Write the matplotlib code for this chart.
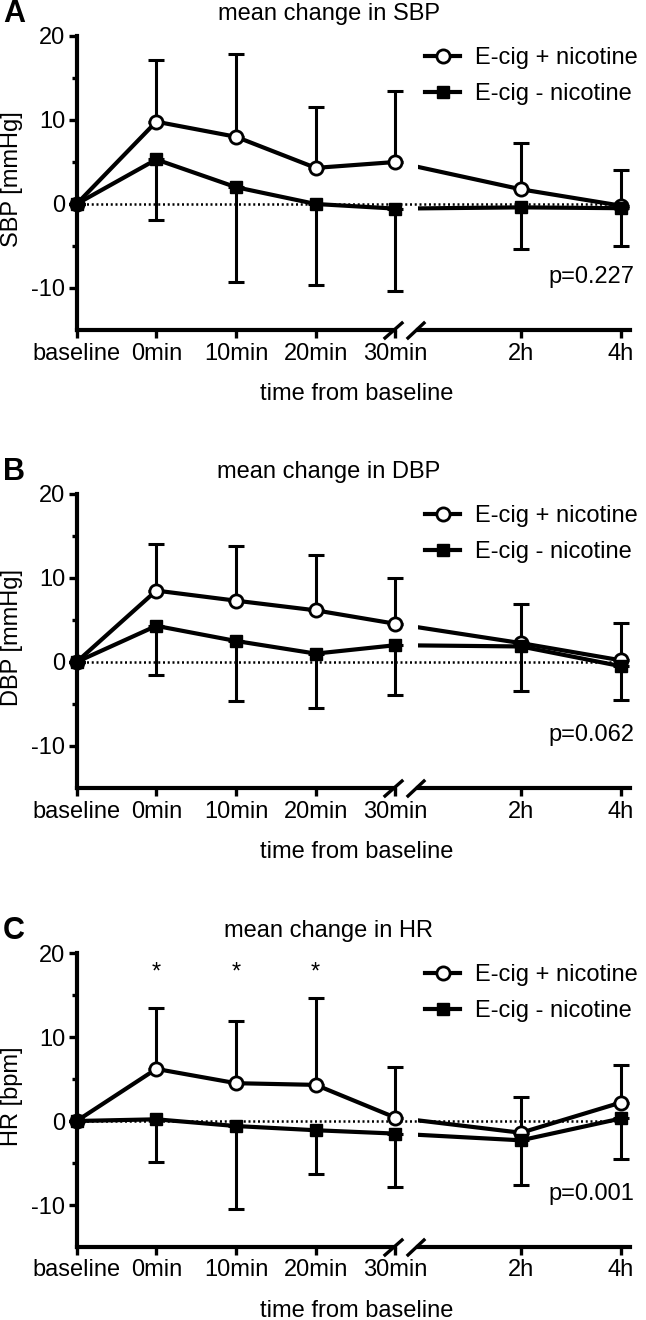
import matplotlib
matplotlib.use('Agg')
import matplotlib.pyplot as plt
from matplotlib.lines import Line2D

plt.rcParams['font.family'] = ['Liberation Sans Narrow', 'Liberation Sans', 'DejaVu Sans']
plt.rcParams['axes.unicode_minus'] = False

# ---------------- data ----------------
time_labels = ['baseline', '0min', '10min', '20min', '30min', '2h', '4h']
series_labels = ['E-cig + nicotine', 'E-cig - nicotine']

sbp_nic = [0, 9.8, 8.0, 4.3, 5.0, 1.75, -0.2]
sbp_nic_err = [0, 7.3, 9.8, 7.2, 8.5, 5.55, 4.3]
sbp_nonic = [0, 5.3, 2.0, 0.0, -0.55, -0.4, -0.5]
sbp_nonic_err = [0, 7.2, 11.3, 9.6, 9.85, 5.0, 4.5]

dbp_nic = [0, 8.5, 7.3, 6.15, 4.55, 2.25, 0.2]
dbp_nic_err = [0, 5.6, 6.5, 6.55, 5.45, 4.7, 4.45]
dbp_nonic = [0, 4.3, 2.5, 1.0, 2.0, 1.85, -0.5]
dbp_nonic_err = [0, 5.8, 7.1, 6.45, 5.9, 5.35, 4.0]

hr_nic = [0, 6.2, 4.5, 4.3, 0.4, -1.4, 2.2]
hr_nic_err = [0, 7.3, 7.4, 10.4, 6.0, 4.2, 4.5]
hr_nonic = [0, 0.2, -0.6, -1.1, -1.5, -2.3, 0.3]
hr_nonic_err = [0, 5.1, 9.9, 5.2, 6.35, 5.35, 4.8]

panel_letters = ['A', 'B', 'C']
panel_titles = ['mean change in SBP', 'mean change in DBP', 'mean change in HR']
y_labels = ['SBP [mmHg]', 'DBP [mmHg]', 'HR [bpm]']
p_values = ['p=0.227', 'p=0.062', 'p=0.001']
star_times = [[], [], ['0min', '10min', '20min']]
star_level = 17.7

# ---------------- layout ----------------
x_pos = [0, 1, 2, 3, 4, 5.575, 6.83]
W, H = 646, 1320
FS = 17
x_left_px = 76.6
px_per_unit = 79.7
left_lim = (0, 4.0)
right_lim = (4.28, 6.944)
y_lim = (-15, 20)
panel_y0 = [204, 662, 1121]        # pixel row of y=0
px_per_y = 8.4

fig = plt.figure(figsize=(W / 100, H / 100), dpi=100)


def add_ax_px(x0, y0, x1, y1):
    return fig.add_axes([x0 / W, 1 - y1 / H, (x1 - x0) / W, (y1 - y0) / H])


def fig_line(xs, ys, **kw):
    fig.add_artist(Line2D([x / W for x in xs], [1 - y / H for y in ys],
                          transform=fig.transFigure, **kw))


panels = [
    (sbp_nic, sbp_nic_err, sbp_nonic, sbp_nonic_err),
    (dbp_nic, dbp_nic_err, dbp_nonic, dbp_nonic_err),
    (hr_nic, hr_nic_err, hr_nonic, hr_nonic_err),
]

LW = 3.0
ELW = 2.2
for k, (m1, e1, m2, e2) in enumerate(panels):
    y0 = panel_y0[k]
    top = y0 - y_lim[1] * px_per_y
    bot = y0 - y_lim[0] * px_per_y
    xl1 = x_left_px + left_lim[1] * px_per_unit
    xr0 = x_left_px + right_lim[0] * px_per_unit
    xr1 = x_left_px + right_lim[1] * px_per_unit
    axL = add_ax_px(x_left_px, top, xl1, bot)
    axR = add_ax_px(xr0, top, xr1, bot)
    axR.patch.set_visible(False)
    axL.patch.set_visible(False)

    # zero reference line (across the break)
    axL.plot([x_pos[0], x_pos[-1]], [0, 0], color='black', lw=1.8,
             dashes=(0.8, 1.1), clip_on=False, zorder=1)

    for ax, idx, lim in [(axL, [0, 1, 2, 3, 4], left_lim), (axR, [5, 6], right_lim)]:
        ax.set_xlim(*lim)
        ax.set_ylim(*y_lim)
        ax.plot(x_pos, m1, color='black', lw=LW, zorder=3)
        ax.plot(x_pos, m2, color='black', lw=LW, zorder=3)
        xs = [x_pos[i] for i in idx]
        ax.errorbar(xs, [m1[i] for i in idx],
                    yerr=[[0] * len(idx), [e1[i] for i in idx]],
                    fmt='none', ecolor='black', elinewidth=ELW, capsize=5.5,
                    capthick=ELW, clip_on=False, zorder=2)
        ax.errorbar(xs, [m2[i] for i in idx],
                    yerr=[[e2[i] for i in idx], [0] * len(idx)],
                    fmt='none', ecolor='black', elinewidth=ELW, capsize=5.5,
                    capthick=ELW, clip_on=False, zorder=2)
        ax.plot(xs, [m1[i] for i in idx], ls='none', marker='o', ms=9.5,
                mfc='white', mec='black', mew=2.0, clip_on=False, zorder=5)
        ax.plot(xs, [m2[i] for i in idx], ls='none', marker='s', ms=8.5,
                mfc='black', mec='black', clip_on=False, zorder=6)
        ax.set_xticks(xs)
        ax.set_xticklabels([time_labels[i] for i in idx])
        for s in ['top', 'right']:
            ax.spines[s].set_visible(False)
        ax.spines['bottom'].set_linewidth(LW)
        ax.spines['left'].set_linewidth(LW)
        ax.tick_params(axis='x', direction='out', length=6, width=2.4,
                       labelsize=FS, pad=3)
        ax.tick_params(axis='y', which='major', direction='out', length=6,
                       width=2.4, labelsize=FS, pad=2)
        ax.tick_params(axis='y', which='minor', direction='out', length=3.5,
                       width=2.4)

    axL.set_yticks([-10, 0, 10, 20])
    axL.set_yticks([-5, 5, 15], minor=True)
    axR.spines['left'].set_visible(False)
    axR.tick_params(axis='y', which='both', left=False, labelleft=False)
    axR.set_yticks([])

    # significance stars
    for t in star_times[k]:
        axL.text(x_pos[time_labels.index(t)], star_level, '*', ha='center',
                 va='center', fontsize=FS)

    # break marks
    fig_line([385, 402], [bot + 8, bot - 7], color='black', lw=2.4)
    fig_line([408, 424], [bot + 8, bot - 7], color='black', lw=2.4)

    # texts
    fig.text(14 / W, 1 - (top - 22) / H, panel_letters[k], fontsize=22,
             fontweight='bold', ha='center', va='center',
             family=['Liberation Sans', 'DejaVu Sans'])
    fig.text(329 / W, 1 - (top - 22) / H, panel_titles[k], fontsize=FS,
             ha='center', va='center')
    fig.text(12 / W, 1 - ((top + bot) / 2 - 4) / H, y_labels[k], fontsize=FS,
             ha='center', va='center', rotation=90)
    fig.text(357 / W, 1 - (bot + 64) / H, 'time from baseline', fontsize=FS,
             ha='center', va='center')
    fig.text(634 / W, 1 - (y0 + 73) / H, p_values[k], fontsize=FS,
             ha='right', va='center')

    handles = [Line2D([], [], color='black', lw=LW, marker='o', ms=9.5,
                      mfc='white', mec='black', mew=2.0),
               Line2D([], [], color='black', lw=LW, marker='s', ms=8.5,
                      mfc='black', mec='black')]
    axR.legend(handles, series_labels, loc='center left',
               bbox_to_anchor=(425 / W, 1 - (top + 40) / H),
               bbox_transform=fig.transFigure, frameon=False, fontsize=FS,
               handlelength=1.5, handletextpad=0.6, labelspacing=0.6,
               borderpad=0, borderaxespad=0)

fig.savefig('out.png', dpi=100)
